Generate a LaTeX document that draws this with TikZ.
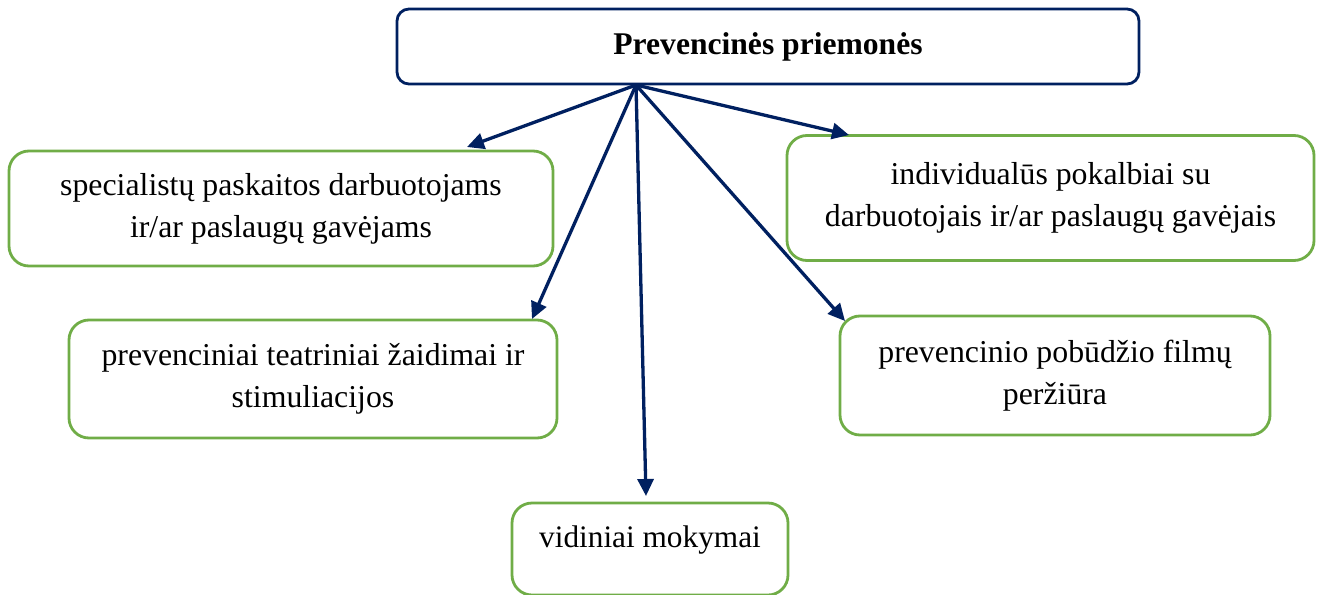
\documentclass[tikz,border=0pt]{standalone}
\usepackage{fontspec}
\setmainfont{Liberation Serif}
\usetikzlibrary{arrows.meta}
\definecolor{navy}{HTML}{002060}
\definecolor{grn}{HTML}{70AD47}
\tikzset{
  topbox/.style={draw=navy, line width=2.8pt, rounded corners=12pt, inner sep=0pt,
    font=\fontsize{31.6}{42}\selectfont\bfseries},
  gbox/.style={draw=grn, line width=2.8pt, rounded corners=20pt, inner sep=0pt,
    align=center, font=\fontsize{31.8}{42}\selectfont},
  plain/.style={inner sep=0pt, font=\fontsize{31.3}{42}\selectfont},
  conn/.style={draw=navy, line width=3.3pt, -{Triangle[length=17pt,width=16pt]}}
}
\begin{document}
\begin{tikzpicture}[x=1pt,y=-1pt]
\useasboundingbox (0,0) rectangle (1321,594);
\node[topbox, minimum width=742pt, minimum height=75pt] (top) at (768,46.5) {Prevencinės priemonės};
\node[gbox, minimum width=544pt, minimum height=115pt] (b1) at (281,208.5) {specialistų paskaitos darbuotojams\\ir/ar paslaugų gavėjams};
\node[gbox, minimum width=527pt, minimum height=125pt] (b2) at (1050.5,198) {individualūs pokalbiai su\\darbuotojais ir/ar paslaugų gavėjais};
\node[gbox, minimum width=488pt, minimum height=118pt] (b3) at (313,379) {prevenciniai teatriniai žaidimai ir\\stimuliacijos};
\node[gbox, minimum width=430pt, minimum height=119pt] (b4) at (1055,375.5) {prevencinio pobūdžio filmų\\peržiūra};
\node[gbox, minimum width=276pt, minimum height=92pt] (b5) at (650,549) {};
\node[plain, anchor=base] (b5t) at (650,547) {vidiniai mokymai};
\coordinate (hub) at (636,85);
\coordinate (t1) at (467,147);
\coordinate (t2) at (849,135);
\coordinate (t3) at (532,319);
\coordinate (t4) at (845,321);
\coordinate (t5) at (646,496);
\draw[conn] (hub) -- (t1);
\draw[conn] (hub) -- (t2);
\draw[conn] (hub) -- (t3);
\draw[conn] (hub) -- (t4);
\draw[conn] (hub) -- (t5);
\end{tikzpicture}
\end{document}
